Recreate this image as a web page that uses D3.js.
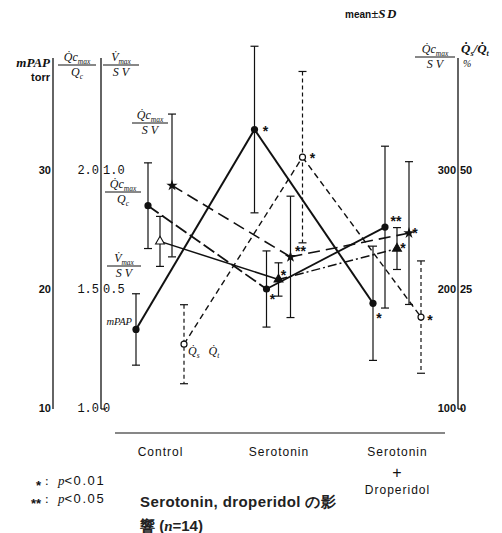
<!DOCTYPE html>
<html>
<head>
<meta charset="utf-8">
<script src="https://cdn.jsdelivr.net/npm/d3@7"></script>
<style>
body { margin: 0; background: #fff; }
</style>
</head>
<body>
<div id="chart"></div>
<script>
// data (mean and SD per condition)
var categories = ['Control', 'Serotonin', 'Serotonin+Droperidol'];
var seriesNames = ['mPAP', 'QcQc', 'VmaxSV', 'QcSV', 'QsQt'];

var mpapMean = [16.6, 33.4, 18.8];
var mpapSD = [3.0, 7.0, 4.8];
var qcQcMean = [1.85, 1.50, 1.76];
var qcQcSD = [0.18, 0.16, 0.34];
var vmaxSvMean = [0.70, 0.54, 0.67];
var vmaxSvSD = [0.105, 0.07, 0.088];
var qcSvMean = [287, 227, 247];
var qcSvSD = [60, 51, 60];
var qsQtMean = [13.4, 52.7, 19.1];
var qsQtSD = [8.3, 18, 11.8];

var mpapSig = ['', '*', '*'];
var qcQcSig = ['', '*', '**'];
var vmaxSvSig = ['', '*', '*'];
var qcSvSig = ['', '**', '*'];
var qsQtSig = ['', '*', '*'];

var mpapTicks = [10, 20, 30];
var qcQcTicks = [1.0, 1.5, 2.0];
var vmaxSvTicks = [0, 0.5, 1.0];
var qcSvTicks = [100, 200, 300];
var qsQtTicks = [0, 25, 50];

var width = 502, height = 533;
var top_ = 170, bottom = 408;
var serif = '"Liberation Serif", "DejaVu Serif", serif';
var sans = '"Liberation Sans", Arial, sans-serif';
var mono = '"Liberation Mono", "DejaVu Sans Mono", monospace';

var svg = d3.select('#chart')
    .append('svg')
    .attr('width', width)
    .attr('height', height);

var x = d3.scalePoint().domain(categories).range([160, 397]);
var xOff = d3.scalePoint().domain(seriesNames).range([-24, 24]);

var yP = d3.scaleLinear().domain([10, 30]).range([bottom, top_]);
var yQ = d3.scaleLinear().domain([1.0, 2.0]).range([bottom, top_]);
var yV = d3.scaleLinear().domain([0, 1.0]).range([bottom, top_]);
var yS = d3.scaleLinear().domain([100, 300]).range([bottom, top_]);
var yT = d3.scaleLinear().domain([0, 50]).range([bottom, top_]);

var series = [
    {name: 'mPAP', mean: mpapMean, sd: mpapSD, sig: mpapSig, y: yP,
     width: 2, dash: [null, null], errDash: null, marker: 'dot',
     sigOff: [[0, 0], [11, -2], [6, 12]]},
    {name: 'QcQc', mean: qcQcMean, sd: qcQcSD, sig: qcQcSig, y: yQ,
     width: 1.8, dash: ['13,4', null], errDash: null, marker: 'dot',
     sigOff: [[0, 0], [6, 7], [11, -9]]},
    {name: 'VmaxSV', mean: vmaxSvMean, sd: vmaxSvSD, sig: vmaxSvSig, y: yV,
     width: 1.5, dash: [null, '9,3,2,3'], errDash: null, marker: 'tri',
     sigOff: [[0, 0], [5, -7], [6, -4]]},
    {name: 'QcSV', mean: qcSvMean, sd: qcSvSD, sig: qcSvSig, y: yS,
     width: 1.6, dash: ['12,6', '12,6'], errDash: null, marker: 'star',
     sigOff: [[0, 0], [10, -9], [6, -3]]},
    {name: 'QsQt', mean: qsQtMean, sd: qsQtSD, sig: qsQtSig, y: yT,
     width: 1.4, dash: ['6,4', '6,4'], errDash: '4,3', marker: 'ring',
     sigOff: [[0, 0], [10, -2], [9, 0]]}
];

function px(s, i) { return x(categories[i]) + xOff(s.name); }

// ---- axes ----
function vline(xp, y1, y2) {
    svg.append('line').attr('x1', xp).attr('x2', xp).attr('y1', y1).attr('y2', y2)
        .attr('stroke', '#111').attr('stroke-width', 1.3);
}
vline(53, 58, 409);
vline(101, 58, 409);
vline(458, 58, 409);
svg.append('line').attr('x1', 101).attr('x2', 106).attr('y1', 409).attr('y2', 409)
    .attr('stroke', '#111').attr('stroke-width', 1.2);
svg.append('line').attr('x1', 458).attr('x2', 463).attr('y1', 409).attr('y2', 409)
    .attr('stroke', '#111').attr('stroke-width', 1.2);

function tickAxis(axis, xp, font, size, weight, fmt) {
    var g = svg.append('g').attr('transform', 'translate(' + xp + ',0)')
        .call(axis.tickSize(0).tickPadding(2).tickFormat(fmt));
    g.select('.domain').remove();
    g.selectAll('text').attr('font-family', font).attr('font-size', size)
        .attr('font-weight', weight).attr('fill', '#111');
}
tickAxis(d3.axisLeft(yP).tickValues(mpapTicks), 53, sans, 11, 'bold', d3.format('d'));
tickAxis(d3.axisLeft(yQ).tickValues(qcQcTicks), 101, mono, 12, 'normal', d3.format('.1f'));
tickAxis(d3.axisRight(yV).tickValues(vmaxSvTicks), 101, mono, 12, 'normal',
    function(d) { return d === 0 ? '0' : d3.format('.1f')(d); });
tickAxis(d3.axisLeft(yS).tickValues(qcSvTicks), 458, sans, 11, 'bold', d3.format('d'));
tickAxis(d3.axisRight(yT).tickValues(qsQtTicks), 458, sans, 11, 'bold', d3.format('d'));

// x axis
svg.append('line').attr('x1', 115).attr('x2', 445).attr('y1', 433).attr('y2', 433)
    .attr('stroke', '#111').attr('stroke-width', 1.2);
var xg = svg.append('g').attr('transform', 'translate(0,433)')
    .call(d3.axisBottom(x).tickSize(0).tickPadding(14));
xg.select('.domain').remove();
xg.selectAll('text').each(function(d) {
    var t = d3.select(this).text(null)
        .attr('font-family', sans).attr('font-size', 12).attr('fill', '#111')
        .attr('letter-spacing', 1);
    d.split('+').forEach(function(part, k) {
        if (k > 0) {
            t.append('tspan').attr('x', 0).attr('dy', '1.4em').attr('font-size', 16).text('+');
            t.append('tspan').attr('x', 0).attr('dy', '1.3em').text(part);
        } else {
            t.append('tspan').attr('x', 0).text(part);
        }
    });
});

// ---- text helpers ----
function rich(g, xp, yp, parts, size, anchor, extra) {
    var t = g.append('text').attr('x', xp).attr('y', yp)
        .attr('font-family', serif).attr('font-size', size)
        .attr('font-style', 'italic').attr('fill', '#111')
        .attr('text-anchor', anchor || 'middle');
    if (extra) extra(t);
    var shift = 0;
    parts.forEach(function(p) {
        var s = t.append('tspan').attr('fill', '#111').text(p[0]);
        var want = p[1] === 'sub' ? 2.5 : 0;
        if (want !== shift) { s.attr('dy', want - shift); shift = want; }
        if (p[1] === 'sub') s.attr('font-size', size * 0.62);
    });
    return t;
}
function frac(cx, yNum, w, num, den, size) {
    rich(svg, cx, yNum, num, size);
    svg.append('line').attr('x1', cx - w / 2).attr('x2', cx + w / 2)
        .attr('y1', yNum + 4).attr('y2', yNum + 4).attr('stroke', '#111').attr('stroke-width', 1);
    rich(svg, cx, yNum + 15, den, size);
}
var QCMAX = [['Q\u0307'], ['c'], ['max', 'sub']];
var VMAX = [['V\u0307'], ['max', 'sub']];
var SV = [['S V']];
var QC = [['Q'], ['c', 'sub']];

// headers
rich(svg, 50, 67, [['mPAP']], 13, 'end', function(t) { t.attr('font-weight', 'bold'); });
svg.append('text').attr('x', 50).attr('y', 81).attr('text-anchor', 'end').attr('fill', '#111')
    .attr('font-family', sans).attr('font-size', 11).attr('font-weight', 'bold').text('torr');
frac(77, 61, 38, QCMAX, QC, 12);
frac(121, 61, 36, VMAX, SV, 12);
frac(435, 53, 40, QCMAX, SV, 12);
rich(svg, 461, 53, [['Q\u0307'], ['s', 'sub'], ['/'], ['Q\u0307'], ['t', 'sub']], 13, 'start',
    function(t) { t.attr('font-weight', 'bold'); });
svg.append('text').attr('x', 463).attr('y', 67).attr('font-family', serif).attr('fill', '#111')
    .attr('font-size', 10).attr('font-style', 'italic').text('%');

var mg = svg.append('text').attr('x', 345).attr('y', 18).attr('font-weight', 'bold').attr('fill', '#111');
mg.append('tspan').attr('font-family', sans).attr('font-size', 10).text('mean');
mg.append('tspan').attr('font-family', serif).attr('font-size', 13).text('\u00b1');
mg.append('tspan').attr('font-family', serif).attr('font-size', 13).attr('font-style', 'italic')
    .attr('letter-spacing', 1.5).text('SD');

// labels inside the plot
frac(150, 119, 36, QCMAX, SV, 12);
frac(123, 188, 36, QCMAX, QC, 12);
frac(124, 262, 34, VMAX, SV, 12);
rich(svg, 132, 325, [['mPAP']], 10.5, 'end');
rich(svg, 188, 355, [['Q\u0307'], ['s', 'sub'], ['\u2002 '], ['Q\u0307'], ['t', 'sub']], 12, 'start');

// ---- data marks ----
var plot = svg.append('g');

series.forEach(function(s) {
    for (var i = 0; i < categories.length - 1; i++) {
        plot.append('path')
            .attr('d', d3.line()([[px(s, i), s.y(s.mean[i])], [px(s, i + 1), s.y(s.mean[i + 1])]]))
            .attr('fill', 'none').attr('stroke', '#111')
            .attr('stroke-width', s.width)
            .attr('stroke-dasharray', s.dash[i]);
    }
});

series.forEach(function(s) {
    s.mean.forEach(function(m, i) {
        var xp = px(s, i);
        var yHi = s.y(m + s.sd[i]), yLo = s.y(m - s.sd[i]);
        plot.append('line').attr('x1', xp).attr('x2', xp).attr('y1', yHi).attr('y2', yLo)
            .attr('stroke', '#111').attr('stroke-width', 1.2)
            .attr('stroke-dasharray', s.errDash);
        [yHi, yLo].forEach(function(yc) {
            plot.append('line').attr('x1', xp - 4).attr('x2', xp + 4).attr('y1', yc).attr('y2', yc)
                .attr('stroke', '#111').attr('stroke-width', 1.2);
        });
    });
});

series.forEach(function(s) {
    s.mean.forEach(function(m, i) {
        var xp = px(s, i), yp = s.y(m);
        var tr = 'translate(' + xp + ',' + yp + ')';
        if (s.marker === 'dot') {
            plot.append('circle').attr('cx', xp).attr('cy', yp).attr('r', 3.6).attr('fill', '#111');
        } else if (s.marker === 'ring') {
            plot.append('circle').attr('cx', xp).attr('cy', yp).attr('r', 3)
                .attr('fill', '#fff').attr('stroke', '#111').attr('stroke-width', 1.2);
        } else if (s.marker === 'tri') {
            plot.append('path').attr('d', d3.symbol(d3.symbolTriangle, 34)())
                .attr('transform', tr).attr('fill', i === 0 ? '#fff' : '#111')
                .attr('stroke', '#111').attr('stroke-width', 1.1);
        } else {
            plot.append('path').attr('d', d3.symbol(d3.symbolStar, 40)())
                .attr('transform', tr).attr('fill', '#111');
        }
        if (s.sig[i]) {
            plot.append('text')
                .attr('x', xp + s.sigOff[i][0]).attr('y', yp + s.sigOff[i][1] + 8)
                .attr('text-anchor', 'middle')
                .attr('font-family', sans).attr('font-size', 14).attr('font-weight', 'bold')
                .attr('fill', '#111').text(s.sig[i]);
        }
    });
});

// ---- footnotes and caption ----
function note(yp, stars, pval) {
    svg.append('text').attr('x', 41).attr('y', yp + 5).attr('text-anchor', 'end').attr('fill', '#111')
        .attr('font-family', sans).attr('font-size', 13).attr('font-weight', 'bold').text(stars);
    var t = svg.append('text').attr('x', 45).attr('y', yp).attr('font-family', serif)
        .attr('font-size', 13).attr('fill', '#111');
    t.append('tspan').text(': ');
    t.append('tspan').attr('font-style', 'italic').attr('dx', 6).text('p');
    t.append('tspan').attr('font-family', sans).attr('letter-spacing', 1.6).text('<' + pval);
}
note(485, '*', '0.01');
note(503, '**', '0.05');

svg.append('text').attr('x', 140).attr('y', 507)
    .attr('font-family', sans).attr('font-size', 15).attr('font-weight', 'bold').attr('fill', '#222')
    .attr('letter-spacing', 0.4)
    .text('Serotonin, droperidol \u306e\u5f71');
var cap = svg.append('text').attr('x', 140).attr('y', 531)
    .attr('font-family', sans).attr('font-size', 15).attr('font-weight', 'bold').attr('fill', '#222');
cap.append('tspan').text('\u97ff (');
cap.append('tspan').attr('font-family', serif).attr('font-style', 'italic').text('n');
cap.append('tspan').text('=14)');
</script>
</body>
</html>
